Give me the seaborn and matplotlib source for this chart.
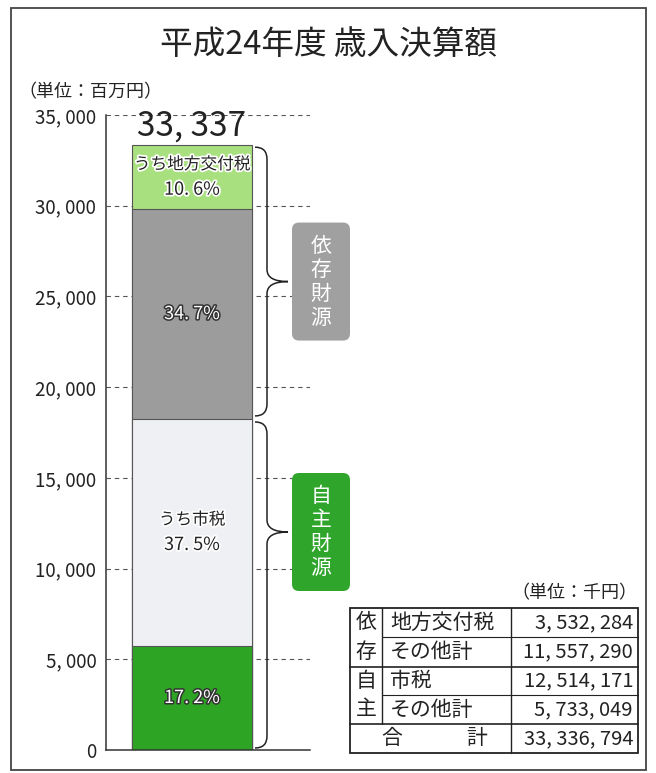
import matplotlib
matplotlib.use("Agg")
import matplotlib.pyplot as plt
import seaborn as sns
import pandas as pd
import numpy as np
from matplotlib.patches import FancyBboxPatch, Rectangle, PathPatch
from matplotlib.path import Path
from matplotlib.transforms import IdentityTransform
from matplotlib.lines import Line2D
import matplotlib.patheffects as pe

# ---------------- data ----------------
title = "平成24年度 歳入決算額"
unit_chart = "（単位：百万円）"
unit_table = "（単位：千円）"

# bar segments, bottom to top (thousand yen)
seg_names = ["自主その他", "市税", "依存その他", "地方交付税"]
seg_values_k = [5733049, 12514171, 11557290, 3532284]
seg_pct = [17.2, 37.5, 34.7, 10.6]
seg_captions = ["", "うち市税", "", "うち地方交付税"]
seg_colors = ["#2ea424", "#eef0f3", "#9c9c9c", "#a9e07f"]
seg_text_style = ["light", "dark", "light", "dark"]

total_k = 33336794
total_label = "33, 337"

y_ticks = [0, 5000, 10000, 15000, 20000, 25000, 30000, 35000]

group_labels = ["依存財源", "自主財源"]
group_colors = ["#a0a0a0", "#2fa52c"]

table_group_chars = ["依", "存", "自", "主"]
table_names = ["地方交付税", "その他計", "市税", "その他計"]
table_values = [3532284, 11557290, 12514171, 5733049]
table_total_chars = ["合", "計"]
table_total_value = 33336794

# ---------------- style ----------------
sns.set_style("white")
plt.rcParams["font.family"] = ["Noto Sans CJK JP", "DejaVu Sans"]

W, H = 656, 773
fig = plt.figure(figsize=(W / 100, H / 100), dpi=100)
fig.patch.set_facecolor("white")

def py(y):  # image y (top-down) -> display y
    return H - y

ax_l, ax_r, ax_t, ax_b = 106, 310, 115, 750
ax = fig.add_axes([ax_l / W, (H - ax_b) / H, (ax_r - ax_l) / W, (ax_b - ax_t) / H])

# stacked bar via seaborn (cumulative tops drawn from tallest down)
seg_values_m = [v / 1000 for v in seg_values_k]
cum = np.cumsum(seg_values_m)
df = pd.DataFrame({"item": ["歳入"] * 4, "top": cum, "color": seg_colors})
for i in reversed(range(len(df))):
    sns.barplot(x=[df["item"][i]], y=[df["top"][i]], color=df["color"][i],
                saturation=1, width=0.8, ax=ax, edgecolor="#555555",
                linewidth=0.8, zorder=2)

ax.set_xlim(-0.4 - 26 / 150, -0.4 - 26 / 150 + (ax_r - ax_l) / 150)
ax.set_ylim(0, 35000)
ax.set_yticks(y_ticks)
ax.set_yticklabels([f"{v:,}".replace(",", ", ") for v in y_ticks])
ax.set_xticks([])
ax.set_xlabel("")
ax.set_ylabel("")
ax.tick_params(axis="y", direction="in", length=9, width=1.1, pad=7,
               labelsize=13.5, colors="#222222")
for s in ["top", "right"]:
    ax.spines[s].set_visible(False)
for s in ["left", "bottom"]:
    ax.spines[s].set_color("#333333")
    ax.spines[s].set_linewidth(1.1)
ax.set_axisbelow(True)
ax.yaxis.grid(True, linestyle=(0, (4, 3.5)), color="#555555", linewidth=0.8)
ax.xaxis.grid(False)
ax.set_facecolor("none")

# labels inside segments
bottoms = np.concatenate([[0], cum[:-1]])
for i in range(4):
    ymid = bottoms[i] + seg_values_m[i] / 2
    pct = f"{seg_pct[i]:.1f}".replace(".", ". ") + "%"
    if seg_text_style[i] == "light":
        kw = dict(color="white",
                  path_effects=[pe.withStroke(linewidth=2.2, foreground="#333333")])
    else:
        kw = dict(color="#222222",
                  path_effects=[pe.withStroke(linewidth=2.5, foreground="white")])
    if seg_captions[i]:
        ax.annotate(seg_captions[i], xy=(0, ymid), xytext=(0, 9), textcoords="offset points",
                    ha="center", va="center", fontsize=12, zorder=5, **kw)
        ax.annotate(pct, xy=(0, ymid), xytext=(0, -9), textcoords="offset points",
                    ha="center", va="center", fontsize=13, zorder=5, **kw)
    else:
        ax.text(0, ymid, pct, ha="center", va="center", fontsize=13, zorder=5, **kw)

# total label above the bar
ax.annotate(total_label, xy=(0, cum[-1]), xytext=(0, 7), textcoords="offset points",
            ha="center", va="baseline", fontsize=24, color="#222222")

# ---------------- braces & group boxes (pixel space) ----------------
def ypx(v):
    return ax.transData.transform((0, v))[1]

ident = IdentityTransform()

def brace(y_top, y_bot, y_tip, x_hook=255, x_line=267, x_tip=288, r=12):
    verts = [(x_hook, y_top), (x_line, y_top), (x_line, y_top - r),
             (x_line, y_tip + r),
             (x_line, y_tip), (x_tip, y_tip),
             (x_line, y_tip), (x_line, y_tip - r),
             (x_line, y_bot + r),
             (x_line, y_bot), (x_hook, y_bot)]
    codes = [Path.MOVETO, Path.CURVE3, Path.CURVE3, Path.LINETO,
             Path.CURVE3, Path.CURVE3, Path.CURVE3, Path.CURVE3,
             Path.LINETO, Path.CURVE3, Path.CURVE3]
    fig.add_artist(PathPatch(Path(verts, codes), transform=ident, fill=False,
                             edgecolor="#222222", linewidth=1.1))

dep_bottom = cum[1]
up_top, up_bot = ypx(cum[-1]) - 2, ypx(dep_bottom) + 3
up_tip = (up_top + up_bot) / 2
lo_top, lo_bot = ypx(dep_bottom) - 3, ypx(0) + 2
lo_tip = py(532)
brace(up_top, up_bot, up_tip)
brace(lo_top, lo_bot, lo_tip)

def group_box(label, color, yc):
    bw, bh = 58, 118
    box = FancyBboxPatch((292, yc - bh / 2), bw, bh, boxstyle="round,pad=0,rounding_size=7",
                         transform=ident, facecolor=color, edgecolor="none")
    fig.add_artist(box)
    n = len(label)
    step = 24
    for k, ch in enumerate(label):
        yy = yc + (n - 1) / 2 * step - k * step
        fig.text(321 / W, yy / H, ch, ha="center", va="center", fontsize=15,
                 color="white")

group_box(group_labels[0], group_colors[0], up_tip)
group_box(group_labels[1], group_colors[1], lo_tip)

# ---------------- titles ----------------
fig.text(328 / W, py(45) / H, title, ha="center", va="center", fontsize=23.5,
         color="#222222")
fig.text(18 / W, py(92) / H, unit_chart, ha="left", va="center", fontsize=13,
         color="#222222")

# ---------------- table ----------------
TL, TR, TT, TB = 350, 638, 608, 753
C1, C2 = 382, 511
rows = [608, 637, 667, 695, 724, 753]

def hline(x0, x1, y, lw):
    fig.add_artist(Line2D([x0, x1], [py(y), py(y)], transform=ident,
                          color="#222222", linewidth=lw))

def vline(x, y0, y1, lw):
    fig.add_artist(Line2D([x, x], [py(y0), py(y1)], transform=ident,
                          color="#222222", linewidth=lw))

fig.add_artist(Rectangle((TL, py(TB)), TR - TL, TB - TT, transform=ident,
                         fill=False, edgecolor="#222222", linewidth=1.3))
hline(C1, TR, rows[1], 0.8)
hline(TL, TR, rows[2], 1.2)
hline(C1, TR, rows[3], 0.8)
hline(TL, TR, rows[4], 1.2)
vline(C1, TT, rows[4], 1.0)
vline(C2, TT, TB, 1.0)

for k in range(4):
    yc = (rows[k] + rows[k + 1]) / 2
    fig.text(366 / W, py(yc) / H, table_group_chars[k], ha="center", va="center",
             fontsize=15, color="#222222")
    fig.text(390 / W, py(yc) / H, table_names[k], ha="left", va="center",
             fontsize=15, color="#222222")
    fig.text(633 / W, py(yc) / H, f"{table_values[k]:,}".replace(",", ", "),
             ha="right", va="center", fontsize=14.5, color="#222222")
yc = (rows[4] + rows[5]) / 2
fig.text(392 / W, py(yc) / H, table_total_chars[0], ha="center", va="center",
         fontsize=15, color="#222222")
fig.text(477 / W, py(yc) / H, table_total_chars[1], ha="center", va="center",
         fontsize=15, color="#222222")
fig.text(633 / W, py(yc) / H, f"{table_total_value:,}".replace(",", ", "),
         ha="right", va="center", fontsize=14.5, color="#222222")
fig.text(637 / W, py(593) / H, unit_table, ha="right", va="center", fontsize=13,
         color="#222222")

# outer frame
fig.add_artist(Rectangle((11, py(770)), 635, 762, transform=ident, fill=False,
                         edgecolor="#444444", linewidth=1.3))

fig.savefig("out.png", dpi=100)
